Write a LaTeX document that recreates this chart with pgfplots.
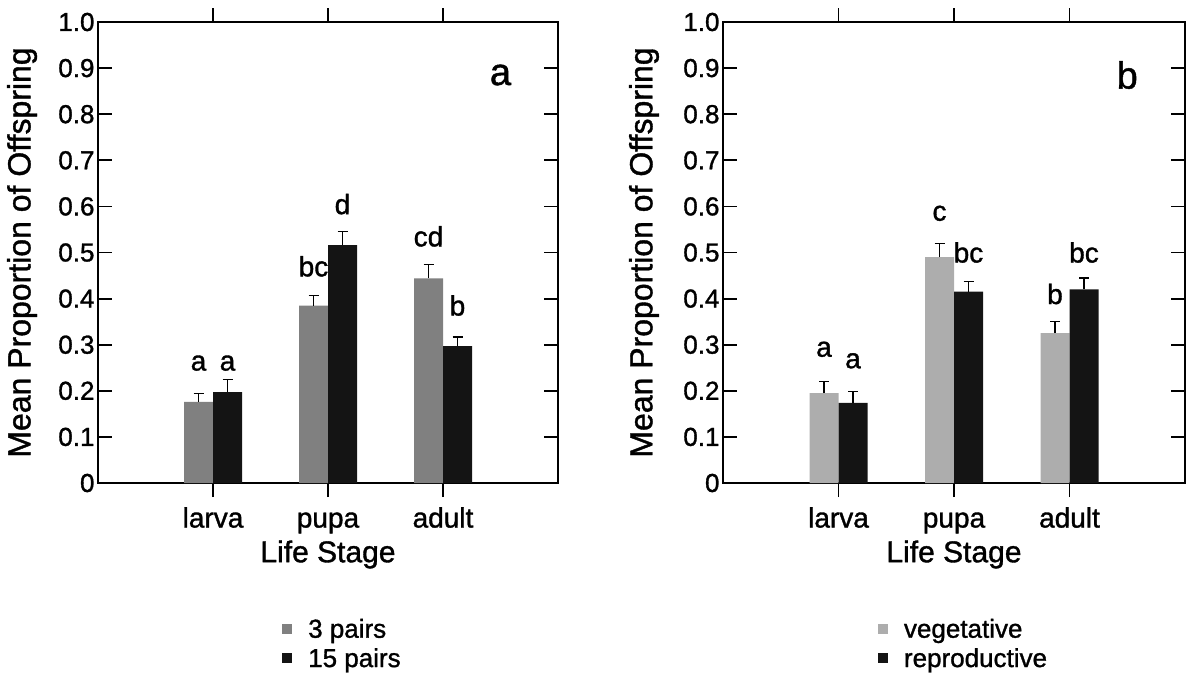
\documentclass[border=0pt]{standalone}
\usepackage{pgfplots}
\pgfplotsset{compat=1.18}
\usepackage{pgfplotstable}
\usepackage{fontspec}
\setmainfont{Liberation Sans}[FakeBold=1.2]

% mean, upper error (proportion of offspring)
\pgfplotstableread{
x  ya     ea     yb     eb
1  0.176  0.018  0.197  0.028
2  0.385  0.022  0.516  0.029
3  0.444  0.030  0.297  0.020
}\densitydata
\pgfplotstableread{
x  ya     ea     yb     eb
1  0.195  0.025  0.174  0.024
2  0.490  0.030  0.415  0.022
3  0.325  0.025  0.420  0.025
}\plantdata

\newcommand\tickfont{\fontsize{26bp}{30bp}\selectfont}
\newcommand\labfont{\fontsize{30bp}{34bp}\selectfont}
\newcommand\letfont{\fontsize{28bp}{32bp}\selectfont}

\pgfplotsset{
  stage/.style={
    scale only axis, width=460bp, height=461bp,
    xmin=0, xmax=4, ymin=0, ymax=1,
    xtick={1,2,3}, xticklabels={larva,pupa,adult},
    ytick={0,0.1,0.2,0.3,0.4,0.5,0.6,0.7,0.8,0.9,1},
    yticklabels={0,0.1,0.2,0.3,0.4,0.5,0.6,0.7,0.8,0.9,1.0},
    tick align=inside, major tick length=14bp,
    axis line style={line width=2bp},
    every tick/.style={line width=1.8bp, black},
    yticklabel style={font=\tickfont},
    xticklabel style={font=\fontsize{28bp}{32bp}\selectfont, yshift=-6bp,
      text height=21bp, text depth=6bp},
    xlabel={Life Stage},
    ylabel={Mean Proportion of Offspring},
    xlabel style={font=\labfont, at={(axis description cs:0.5,-0.155)}, anchor=center},
    ylabel style={font=\fontsize{32bp}{36bp}\selectfont, at={(axis description cs:-0.165,0.5)}, anchor=center},
    ybar=0pt, bar width=29bp,
    legend image code/.code={\fill[#1] (0bp,-5bp) rectangle (10bp,5bp);},
    legend style={draw=none, fill=none, font=\tickfont, anchor=north west,
      cells={anchor=west}, inner sep=0pt, row sep=5bp,
      /tikz/every odd column/.append style={column sep=14bp}},
    errs/.style={error bars/.cd, y dir=plus, y explicit, error mark=|,
      error bar style={line width=1.3bp, draw=black},
      error mark options={draw=black, line width=1.3bp, mark size=5bp}},
  }
}

\begin{document}
\begin{tikzpicture}
\useasboundingbox (0,0) rectangle (1189bp,-680bp);

\begin{axis}[stage, at={(98bp,-483bp)}, anchor=south west,
  legend style={at={(axis description cs:0.4,-0.29)}}]
\addplot[fill=black!50, draw=none, errs] table[x=x, y=ya, y error=ea] {\densitydata};
\addlegendentry{3 pairs}
\addplot[fill=black!92, draw=none, errs] table[x=x, y=yb, y error=eb] {\densitydata};
\addlegendentry{15 pairs}
\node[font=\letfont, xshift=-14.5bp] at (axis cs:1,0.26) {a};
\node[font=\letfont, xshift=14.5bp] at (axis cs:1,0.26) {a};
\node[font=\letfont, xshift=-14.5bp] at (axis cs:2,0.47) {bc};
\node[font=\letfont, xshift=14.5bp] at (axis cs:2,0.605) {d};
\node[font=\letfont, xshift=-14.5bp] at (axis cs:3,0.535) {cd};
\node[font=\letfont, xshift=14.5bp] at (axis cs:3,0.385) {b};
\node[font=\fontsize{38bp}{42bp}\selectfont] at (axis cs:3.5,0.885) {a};
\end{axis}

\begin{axis}[stage, width=462bp, at={(723bp,-483bp)}, anchor=south west,
  ylabel style={at={(axis description cs:-0.171,0.5)}},
  legend style={at={(axis description cs:0.335,-0.29)}}]
\addplot[fill=black!32, draw=none, errs] table[x=x, y=ya, y error=ea] {\plantdata};
\addlegendentry{vegetative}
\addplot[fill=black!92, draw=none, errs] table[x=x, y=yb, y error=eb] {\plantdata};
\addlegendentry{reproductive}
\node[font=\letfont, xshift=-14.5bp] at (axis cs:1,0.29) {a};
\node[font=\letfont, xshift=14.5bp] at (axis cs:1,0.265) {a};
\node[font=\letfont, xshift=-14.5bp] at (axis cs:2,0.585) {c};
\node[font=\letfont, xshift=14.5bp] at (axis cs:2,0.50) {bc};
\node[font=\letfont, xshift=-14.5bp] at (axis cs:3,0.41) {b};
\node[font=\letfont, xshift=14.5bp] at (axis cs:3,0.50) {bc};
\node[font=\fontsize{38bp}{42bp}\selectfont] at (axis cs:3.5,0.885) {b};
\end{axis}
\end{tikzpicture}
\end{document}
